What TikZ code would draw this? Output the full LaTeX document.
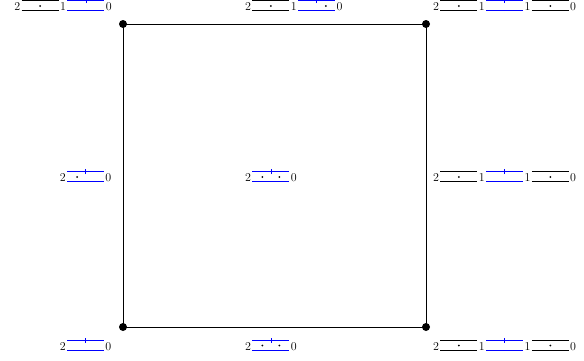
\documentclass[tikz,border=0pt]{standalone}
\tikzset{
  dig/.style={inner sep=0pt, font=\large},
  corner/.style={circle, fill=black, inner sep=0pt, minimum size=8pt},
  edge/.style={line width=0.8pt},
  sline/.style={draw=black, line width=0.7pt},
  bline/.style={draw=blue, line width=0.7pt},
  dotf/.style={fill=black},
  pics/gstrip/.style={code={
    \draw[sline] (0,0)--(37,0); \draw[sline] (0,10)--(37,10);
    \fill[dotf] (18.5,4.5) circle (1.0);}},
  pics/bstrip/.style={code={
    \draw[bline] (0,0)--(37,0); \draw[bline] (0,10)--(37,10);
    \draw[bline] (18.5,7.5)--(18.5,12.5);}},
  pics/bstripR/.style={code={
    \draw[bline] (0,0)--(37,0); \draw[bline] (0,10)--(37,10);
    \draw[bline] (18.5,7.5)--(18.5,12.5);
    \fill[dotf] (27.75,4.5) circle (1.0);}},
  pics/bstripL/.style={code={
    \draw[bline] (0,0)--(37,0); \draw[bline] (0,10)--(37,10);
    \draw[bline] (18.5,7.5)--(18.5,12.5);
    \fill[dotf] (10,4.5) circle (1.0);}},
  pics/bstripLR/.style={code={
    \draw[bline] (0,0)--(37,0); \draw[bline] (0,10)--(37,10);
    \draw[bline] (18.5,7.5)--(18.5,12.5);
    \fill[dotf] (10,4.5) circle (1.0);
    \fill[dotf] (27,4.5) circle (1.0);}}
}
\newcommand\firstdig[3]{\node[dig,anchor=base west] (#1) at #2 {#3};}
\newcommand\nextseg[4]{%
  \pic at ([xshift=1.2pt]#1.base east) {#2};
  \node[dig,anchor=base west] (#3) at ([xshift=39.4pt]#1.base east) {#4};}
\begin{document}
\begin{tikzpicture}[x=1pt,y=1pt]
\useasboundingbox (0,0) rectangle (584,360);
\node[corner] (tl) at (123,336) {};
\node[corner] (tr) at (426,336) {};
\node[corner] (bl) at (123,33) {};
\node[corner] (br) at (426,33) {};
\draw[edge] (tl.center) -- (tr.center) -- (br.center) -- (bl.center) -- cycle;
% top row
\firstdig{a0}{(14.2,349.5)}{2}\nextseg{a0}{gstrip}{a1}{1}\nextseg{a1}{bstrip}{a2}{0}
\firstdig{b0}{(245,349.5)}{2}\nextseg{b0}{gstrip}{b1}{1}\nextseg{b1}{bstripR}{b2}{0}
\firstdig{c0}{(433,349.5)}{2}\nextseg{c0}{gstrip}{c1}{1}\nextseg{c1}{bstrip}{c2}{1}\nextseg{c2}{gstrip}{c3}{0}
% middle row
\firstdig{d0}{(59.6,178.5)}{2}\nextseg{d0}{bstripL}{d1}{0}
\firstdig{e0}{(245,178.5)}{2}\nextseg{e0}{bstripLR}{e1}{0}
\firstdig{f0}{(433,178.5)}{2}\nextseg{f0}{gstrip}{f1}{1}\nextseg{f1}{bstrip}{f2}{1}\nextseg{f2}{gstrip}{f3}{0}
% bottom row
\firstdig{g0}{(59.6,10)}{2}\nextseg{g0}{bstrip}{g1}{0}
\firstdig{h0}{(245,10)}{2}\nextseg{h0}{bstripLR}{h1}{0}
\firstdig{i0}{(433,10)}{2}\nextseg{i0}{gstrip}{i1}{1}\nextseg{i1}{bstrip}{i2}{1}\nextseg{i2}{gstrip}{i3}{0}
\end{tikzpicture}
\end{document}
